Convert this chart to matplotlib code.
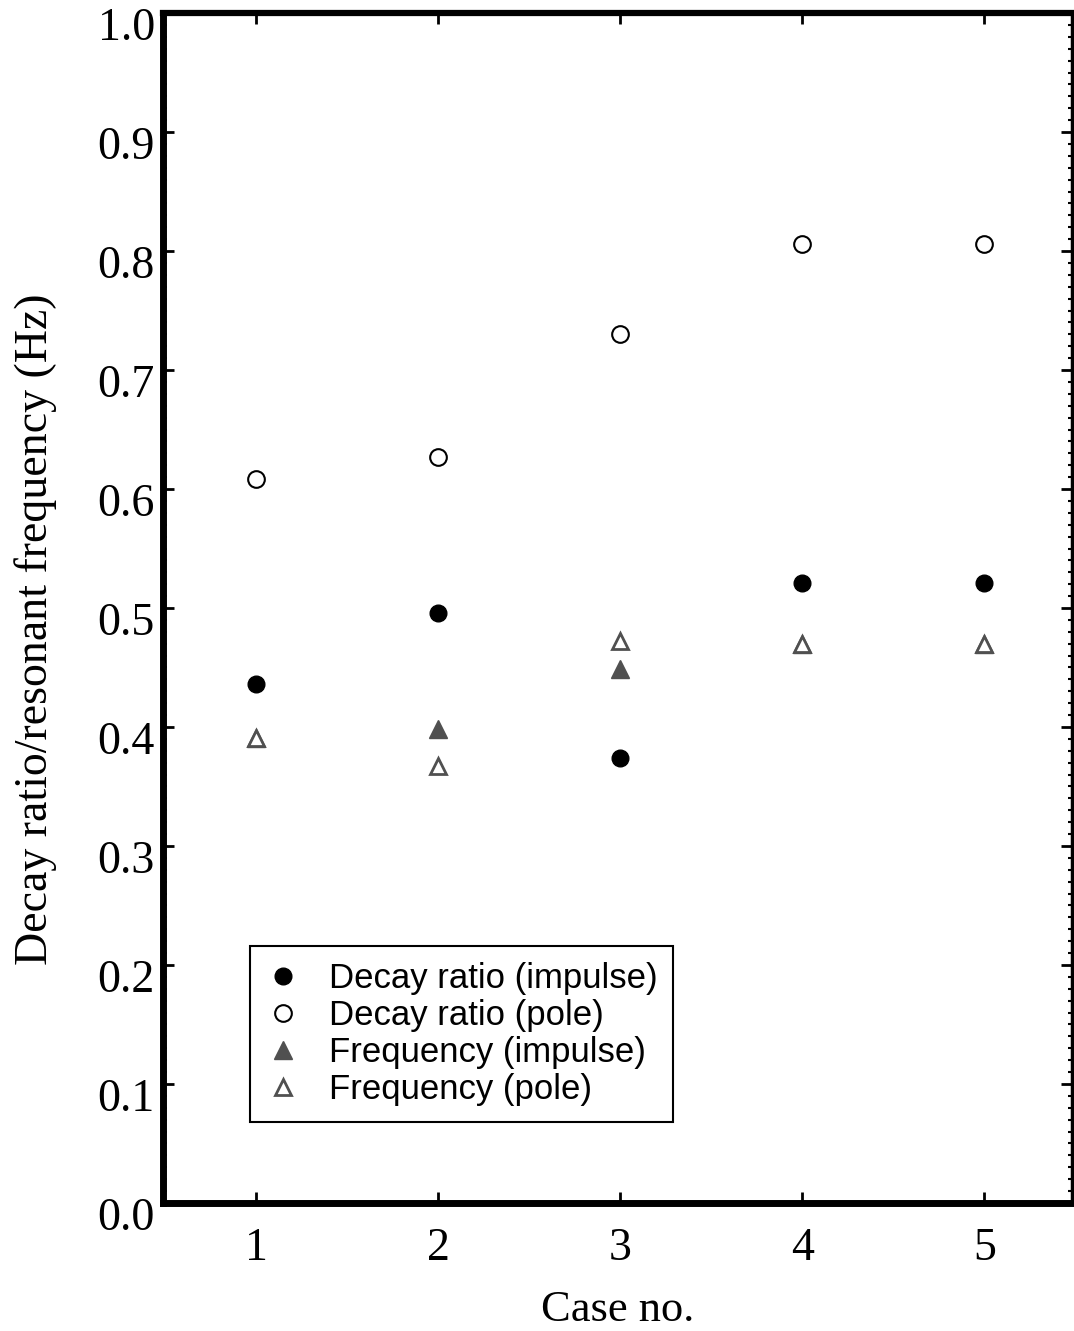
import matplotlib.pyplot as plt
import matplotlib.transforms as mtransforms
import numpy as np

cases = [1, 2, 3, 4, 5]
decay_impulse = [0.436, 0.496, 0.374, 0.521, 0.521]
decay_pole = [0.608, 0.627, 0.730, 0.806, 0.806]
freq_impulse = [0.391, 0.398, 0.449, 0.470, 0.470]
freq_pole = [0.391, 0.367, 0.472, 0.470, 0.470]

fig = plt.figure(figsize=(10.74, 13.31), dpi=100)
ax = fig.add_axes([0.152, 0.0962, 0.846, 0.894])

grey = "#505050"
ax.plot(cases, decay_impulse, "o", color="black", markersize=12, label="Decay ratio (impulse)")
ax.plot(cases, decay_pole, "o", markerfacecolor="white", markeredgecolor="black",
        markeredgewidth=1.5, markersize=12, label="Decay ratio (pole)")
ax.plot(cases, freq_impulse, "^", color=grey, markersize=13, label="Frequency (impulse)")
ax.plot(cases, freq_pole, "^", markerfacecolor="white", markeredgecolor=grey,
        markeredgewidth=2, markersize=12, label="Frequency (pole)")

ax.set_xlim(0.49, 5.48)
ax.set_ylim(0, 1.0)
ax.set_xticks(cases)
ax.set_yticks(np.arange(0, 1.01, 0.1))
ax.set_yticks(np.arange(0, 1.001, 0.01), minor=True)
ax.set_yticklabels(["%.1f" % v for v in np.arange(0, 1.01, 0.1)])

ax.tick_params(axis="both", which="major", direction="in", top=True, right=True,
               length=8, width=2, pad=6)
ax.tick_params(axis="y", which="minor", direction="in", right=True, length=3, width=1.5)
ax.tick_params(axis="x", which="major", pad=18)

serif = "Liberation Serif"
for lab in ax.get_xticklabels() + ax.get_yticklabels():
    lab.set_fontfamily(serif)
    lab.set_fontsize(33)

# y tick labels sit a bit below their ticks in the original
shift = mtransforms.ScaledTranslation(0, -11 / 100, fig.dpi_scale_trans)
for tick in ax.yaxis.get_major_ticks():
    tick.label1.set_transform(tick.label1.get_transform() + shift)

ax.spines["left"].set_linewidth(5)
ax.spines["bottom"].set_linewidth(5)
ax.spines["top"].set_linewidth(4.5)
ax.spines["right"].set_linewidth(2.5)

ax.set_xlabel("Case no.", fontfamily=serif, fontsize=32, labelpad=14)
ax.set_ylabel("Decay ratio/resonant frequency (Hz)", fontfamily=serif, fontsize=33)
ax.yaxis.set_label_coords(-0.117, 0.482)

leg = ax.legend(loc="lower left", bbox_to_anchor=(0.096, 0.068), frameon=True,
                fancybox=False, edgecolor="black", framealpha=1, borderaxespad=0,
                prop={"family": "Liberation Sans", "size": 25},
                handletextpad=0.8, labelspacing=0.12, borderpad=0.45, handlelength=1.0)
leg.get_frame().set_linewidth(1.5)

fig.savefig("out.png", dpi=100)
